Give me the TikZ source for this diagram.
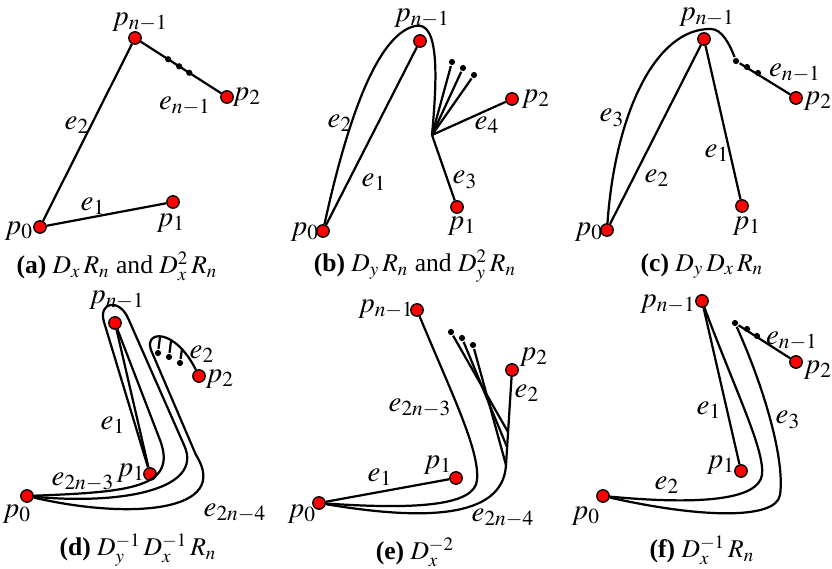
\documentclass[tikz,border=0pt]{standalone}
\usepackage{mathptmx}
\usepackage{fontspec}
\setmainfont{Liberation Serif}
\usetikzlibrary{calc}

\begin{document}
\begin{tikzpicture}[x=0.45pt,y=-0.45pt,line width=1pt,
    vtx/.style={circle,draw=black,fill=red,line width=0.6pt,inner sep=0pt,minimum size=5.6pt},
    stub/.style={circle,fill=black,inner sep=0pt,minimum size=2.8pt},
    lbl/.style={font=\fontsize{13}{15}\selectfont,inner sep=0pt},
    subcap/.style={font=\fontsize{11.5}{13}\selectfont,inner sep=0pt}]
    \useasboundingbox (0,0) rectangle (832,569);

    % (a)
    \node[vtx] (a0) at (40,227) {};
    \node[vtx] (a1) at (173,202) {};
    \node[vtx] (a2) at (227,97) {};
    \node[vtx] (an) at (135,38) {};
    \draw (a0) -- (a1);
    \draw (a0) -- (an);
    \draw (an) -- (a2);
    \foreach \t [count=\i] in {0.36,0.48,0.59}
        {\node[stub] (as\i) at ($(an)!\t!(a2)$) {};}
    \node[lbl] (la0) at (19,231) {$p_0$};
    \node[lbl] (la1) at (171,223) {$p_1$};
    \node[lbl] (la2) at (247,97) {$p_2$};
    \node[lbl] (lan) at (140,22) {$p_{n-1}$};
    \node[lbl] (lae1) at (93,206) {$e_1$};
    \node[lbl] (lae2) at (77,125) {$e_2$};
    \node[lbl] (laen) at (185,106) {$e_{n-1}$};
    \node[subcap] (capa) at (117,266) {\textbf{(a)} $D_x\,R_n$ and $D_x^2\,R_n$};

    % (b)
    \node[vtx] (b0) at (323,231) {};
    \node[vtx] (b1) at (457,207) {};
    \node[vtx] (b2) at (512,99) {};
    \node[vtx] (bn) at (420,41) {};
    \coordinate (bj) at (432,135);
    \draw (b0) -- (bn);
    \draw (b0) .. controls (345,130) and (375,35) .. (415,26)
        .. controls (440,20) and (437,80) .. (bj);
    \draw (bj) -- (b1);
    \draw (bj) -- (b2);
    \foreach \x/\y [count=\i] in {452/62,463/68,474/75}
        {\node[stub] (bs\i) at (\x,\y) {};
         \draw (bj) -- (bs\i);}
    \node[lbl] (lb0) at (305,232) {$p_0$};
    \node[lbl] (lb1) at (462,226) {$p_1$};
    \node[lbl] (lb2) at (536,99) {$p_2$};
    \node[lbl] (lbn) at (422,18) {$p_{n-1}$};
    \node[lbl] (lbe1) at (374,182) {$e_1$};
    \node[lbl] (lbe2) at (340,123) {$e_2$};
    \node[lbl] (lbe3) at (465,180) {$e_3$};
    \node[lbl] (lbe4) at (487,125) {$e_4$};
    \node[subcap] (capb) at (415,266) {\textbf{(b)} $D_y\,R_n$ and $D_y^2\,R_n$};

    % (c)
    \node[vtx] (c0) at (607,230) {};
    \node[vtx] (c1) at (742,206) {};
    \node[vtx] (c2) at (796,98) {};
    \node[vtx] (cn) at (704,39) {};
    \foreach \x/\y [count=\i] in {736/61,747/67,758/73}
        {\node[stub] (cs\i) at (\x,\y) {};}
    \draw (cn) -- (c1);
    \draw (c0) -- (cn);
    \draw (c0) .. controls (615,115) and (655,28) .. (711,29)
        .. controls (722,29) and (730,45) .. (cs1);
    \draw (cs1) -- (c2);
    \node[lbl] (lc0) at (589,232) {$p_0$};
    \node[lbl] (lc1) at (747,226) {$p_1$};
    \node[lbl] (lc2) at (818,101) {$p_2$};
    \node[lbl] (lcn) at (707,17) {$p_{n-1}$};
    \node[lbl] (lce1) at (717,153) {$e_1$};
    \node[lbl] (lce2) at (657,178) {$e_2$};
    \node[lbl] (lce3) at (612,118) {$e_3$};
    \node[lbl] (lcen) at (795,73) {$e_{n-1}$};
    \node[subcap] (capc) at (702,266) {\textbf{(c)} $D_y\,D_x\,R_n$};

    % (d)
    \node[vtx] (d0) at (27,496) {};
    \node[vtx] (d1) at (150,474) {};
    \node[vtx] (d2) at (199,376) {};
    \node[vtx] (dn) at (115,323) {};
    \draw (dn) -- (d1);
    \draw (d0) .. controls (130,492) and (178,488) .. (160,440) -- (dn);
    \draw (d0) .. controls (120,505) and (205,490) .. (184,445) -- (128,318)
        .. controls (119,298) and (98,302) .. (104,322) -- (d1);
    \draw (d0) .. controls (130,520) and (232,512) .. (196,455) -- (151,350)
        .. controls (144,330) and (175,328) .. (d2);
    \foreach \x/\y/\u/\v [count=\i] in {160/337/158/353,171/341/169/357,182/349/180/363}
        {\coordinate (dt\i) at (\x,\y);
         \node[stub] (ds\i) at (\u,\v) {};
         \draw (dt\i) -- (ds\i);}
    \node[lbl] (ld0) at (17,514) {$p_0$};
    \node[lbl] (ld1) at (131,473) {$p_1$};
    \node[lbl] (ld2) at (220,379) {$p_2$};
    \node[lbl] (ldn) at (117,300) {$p_{n-1}$};
    \node[lbl] (lde1) at (113,425) {$e_1$};
    \node[lbl] (lde2) at (202,354) {$e_2$};
    \node[lbl] (ldea) at (83,482) {$e_{2n-3}$};
    \node[lbl] (ldeb) at (235,513) {$e_{2n-4}$};
    \node[subcap] (capd) at (138,550) {\textbf{(d)} $D_y^{-1}\,D_x^{-1}\,R_n$};

    % (e)
    \node[vtx] (e0) at (319,503) {};
    \node[vtx] (e1) at (456,478) {};
    \node[vtx] (e2) at (512,370) {};
    \node[vtx] (en) at (417,310) {};
    \coordinate (ek) at (506,465);
    \draw (e0) -- (e1);
    \draw (en) .. controls (450,390) and (480,450) .. (477,480)
        .. controls (475,505) and (420,510) .. (e0);
    \draw (e2) -- (ek) .. controls (503,520) and (420,520) .. (e0);
    \foreach \x/\y/\u/\v [count=\i] in {451/332/508/432,462/338/507/447,473/345/506/465}
        {\node[stub] (es\i) at (\x,\y) {};
         \coordinate (ef\i) at (\u,\v);
         \draw (es\i) -- (ef\i);}
    \node[lbl] (le0) at (302,514) {$p_0$};
    \node[lbl] (le1) at (438,465) {$p_1$};
    \node[lbl] (le2) at (534,357) {$p_2$};
    \node[lbl] (len) at (386,309) {$p_{n-1}$};
    \node[lbl] (lee1) at (380,477) {$e_1$};
    \node[lbl] (lee2) at (527,393) {$e_2$};
    \node[lbl] (leea) at (420,408) {$e_{2n-3}$};
    \node[lbl] (leeb) at (503,518) {$e_{2n-4}$};
    \node[subcap] (cape) at (415,552) {\textbf{(e)} $D_x^{-2}$};

    % (f)
    \node[vtx] (f0) at (603,496) {};
    \node[vtx] (f1) at (741,471) {};
    \node[vtx] (f2) at (796,362) {};
    \node[vtx] (fn) at (702,301) {};
    \foreach \x/\y [count=\i] in {735/323,747/329,757/336}
        {\node[stub] (fs\i) at (\x,\y) {};}
    \draw (fn) -- (f1);
    \draw (fn) .. controls (735,390) and (765,450) .. (762,475)
        .. controls (758,500) and (700,505) .. (f0);
    \draw (fs1) .. controls (765,390) and (785,460) .. (780,495)
        .. controls (776,520) and (700,518) .. (f0);
    \draw (fs1) -- (f2);
    \node[lbl] (lf0) at (586,516) {$p_0$};
    \node[lbl] (lf1) at (721,465) {$p_1$};
    \node[lbl] (lf2) at (818,370) {$p_2$};
    \node[lbl] (lfn) at (668,304) {$p_{n-1}$};
    \node[lbl] (lfe1) at (709,410) {$e_1$};
    \node[lbl] (lfe2) at (667,485) {$e_2$};
    \node[lbl] (lfe3) at (788,420) {$e_3$};
    \node[lbl] (lfen) at (792,341) {$e_{n-1}$};
    \node[subcap] (capf) at (702,550) {\textbf{(f)} $D_x^{-1}\,R_n$};
\end{tikzpicture}
\end{document}
